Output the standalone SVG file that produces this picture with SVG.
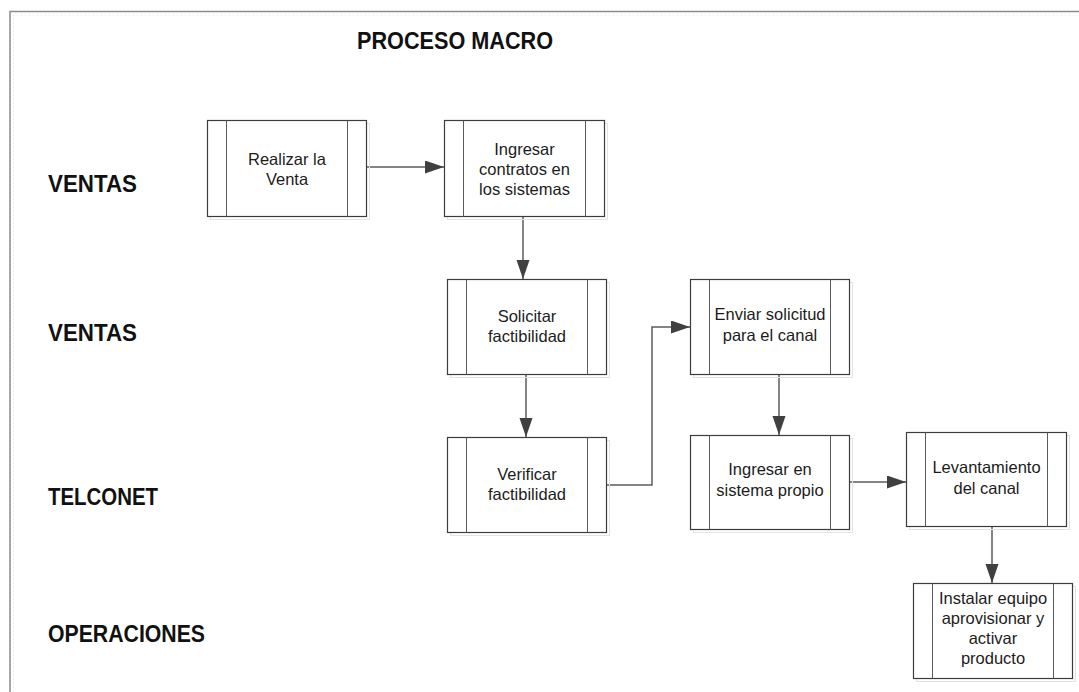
<svg xmlns="http://www.w3.org/2000/svg" width="1079" height="692" viewBox="0 0 1079 692">
  <style>
    .frame { fill: none; stroke: #8a8a8a; stroke-width: 1.5; }
    .frame-in { fill: none; stroke: #ececec; stroke-width: 1; stroke-dasharray: 2 2; }
    .shadow { fill: none; stroke: #e2e2e2; stroke-width: 1; }
    .box { fill: #ffffff; stroke: #3c3c3c; stroke-width: 1.2; }
    .bar { stroke: #5a5a5a; stroke-width: 1; }
    .lbl { font-family: "Liberation Sans", Arial, sans-serif; font-size: 16.5px; fill: #1c1c1c; text-anchor: middle; }
    .lane { font-family: "Liberation Sans", Arial, sans-serif; font-size: 23px; font-weight: bold; fill: #111111; }
    .wire { fill: none; stroke: #5c5c5c; stroke-width: 1.5; }
  </style>
  <defs>
    <marker id="arrow" markerUnits="userSpaceOnUse" markerWidth="20" markerHeight="14" refX="19" refY="6.5" orient="auto">
      <path d="M0,0 L19,6.5 L0,13 Z" fill="#404040"/>
    </marker>
  </defs>

  <rect x="0" y="0" width="1079" height="692" fill="#ffffff"/>

  <!-- page frame -->
  <path class="frame-in" d="M13.5,692 V15 H1079"/>
  <path class="frame" d="M10,692 V11.5 H1079"/>

  <!-- titles and lanes -->
  <g id="titles">
    <text class="lane" x="357" y="49" textLength="196" lengthAdjust="spacingAndGlyphs">PROCESO MACRO</text>
    <text class="lane" x="48" y="192" textLength="89" lengthAdjust="spacingAndGlyphs">VENTAS</text>
    <text class="lane" x="48" y="341" textLength="89" lengthAdjust="spacingAndGlyphs">VENTAS</text>
    <text class="lane" x="48" y="505" textLength="110" lengthAdjust="spacingAndGlyphs">TELCONET</text>
    <text class="lane" x="48" y="642" textLength="157" lengthAdjust="spacingAndGlyphs">OPERACIONES</text>
  </g>

  <!-- connectors -->
  <g id="connectors">
    <path class="wire" d="M366,167 H444" marker-end="url(#arrow)"/>
    <path class="wire" d="M523,216 V279" marker-end="url(#arrow)"/>
    <path class="wire" d="M526,374 V437" marker-end="url(#arrow)"/>
    <path class="wire" d="M606,485 H652 V327 H690" marker-end="url(#arrow)"/>
    <path class="wire" d="M779,374 V435" marker-end="url(#arrow)"/>
    <path class="wire" d="M849,482 H906" marker-end="url(#arrow)"/>
    <path class="wire" d="M992,526 V583" marker-end="url(#arrow)"/>
  </g>

  <!-- process nodes -->
  <g id="realizar-venta">
    <rect class="shadow" x="210.5" y="123.5" width="159" height="96"/>
    <rect class="box" x="207.5" y="120.5" width="159" height="96"/>
    <line class="bar" x1="226.5" y1="120.5" x2="226.5" y2="216.5"/>
    <line class="bar" x1="347.5" y1="120.5" x2="347.5" y2="216.5"/>
    <text class="lbl" x="287" y="165">Realizar la</text>
    <text class="lbl" x="287" y="185">Venta</text>
  </g>

  <g id="ingresar-contratos">
    <rect class="shadow" x="447.5" y="123.5" width="160" height="96"/>
    <rect class="box" x="444.5" y="120.5" width="160" height="96"/>
    <line class="bar" x1="463.5" y1="120.5" x2="463.5" y2="216.5"/>
    <line class="bar" x1="585.5" y1="120.5" x2="585.5" y2="216.5"/>
    <text class="lbl" x="524.5" y="155">Ingresar</text>
    <text class="lbl" x="524.5" y="175">contratos en</text>
    <text class="lbl" x="524.5" y="195">los sistemas</text>
  </g>

  <g id="solicitar-factibilidad">
    <rect class="shadow" x="450.5" y="282.5" width="159" height="95"/>
    <rect class="box" x="447.5" y="279.5" width="159" height="95"/>
    <line class="bar" x1="466.5" y1="279.5" x2="466.5" y2="374.5"/>
    <line class="bar" x1="587.5" y1="279.5" x2="587.5" y2="374.5"/>
    <text class="lbl" x="527" y="322">Solicitar</text>
    <text class="lbl" x="527" y="342">factibilidad</text>
  </g>

  <g id="verificar-factibilidad">
    <rect class="shadow" x="450.5" y="440.5" width="159" height="95"/>
    <rect class="box" x="447.5" y="437.5" width="159" height="95"/>
    <line class="bar" x1="466.5" y1="437.5" x2="466.5" y2="532.5"/>
    <line class="bar" x1="587.5" y1="437.5" x2="587.5" y2="532.5"/>
    <text class="lbl" x="527" y="480">Verificar</text>
    <text class="lbl" x="527" y="500">factibilidad</text>
  </g>

  <g id="enviar-solicitud">
    <rect class="shadow" x="693.5" y="282.5" width="159" height="95"/>
    <rect class="box" x="690.5" y="279.5" width="159" height="95"/>
    <line class="bar" x1="709.5" y1="279.5" x2="709.5" y2="374.5"/>
    <line class="bar" x1="830.5" y1="279.5" x2="830.5" y2="374.5"/>
    <text class="lbl" x="770" y="320">Enviar solicitud</text>
    <text class="lbl" x="770" y="341">para el canal</text>
  </g>

  <g id="ingresar-sistema">
    <rect class="shadow" x="693.5" y="438.5" width="159" height="94"/>
    <rect class="box" x="690.5" y="435.5" width="159" height="94"/>
    <line class="bar" x1="709.5" y1="435.5" x2="709.5" y2="529.5"/>
    <line class="bar" x1="830.5" y1="435.5" x2="830.5" y2="529.5"/>
    <text class="lbl" x="770" y="475">Ingresar en</text>
    <text class="lbl" x="770" y="496">sistema propio</text>
  </g>

  <g id="levantamiento-canal">
    <rect class="shadow" x="909.5" y="435.5" width="160" height="94"/>
    <rect class="box" x="906.5" y="432.5" width="160" height="94"/>
    <line class="bar" x1="925.5" y1="432.5" x2="925.5" y2="526.5"/>
    <line class="bar" x1="1047.5" y1="432.5" x2="1047.5" y2="526.5"/>
    <text class="lbl" x="986.5" y="473">Levantamiento</text>
    <text class="lbl" x="986.5" y="494">del canal</text>
  </g>

  <g id="instalar-equipo">
    <rect class="shadow" x="916.5" y="586.5" width="159" height="95"/>
    <rect class="box" x="913.5" y="583.5" width="159" height="95"/>
    <line class="bar" x1="932.5" y1="583.5" x2="932.5" y2="678.5"/>
    <line class="bar" x1="1053.5" y1="583.5" x2="1053.5" y2="678.5"/>
    <text class="lbl" x="993" y="604">Instalar equipo</text>
    <text class="lbl" x="993" y="624">aprovisionar y</text>
    <text class="lbl" x="993" y="644">activar</text>
    <text class="lbl" x="993" y="664">producto</text>
  </g>
</svg>
